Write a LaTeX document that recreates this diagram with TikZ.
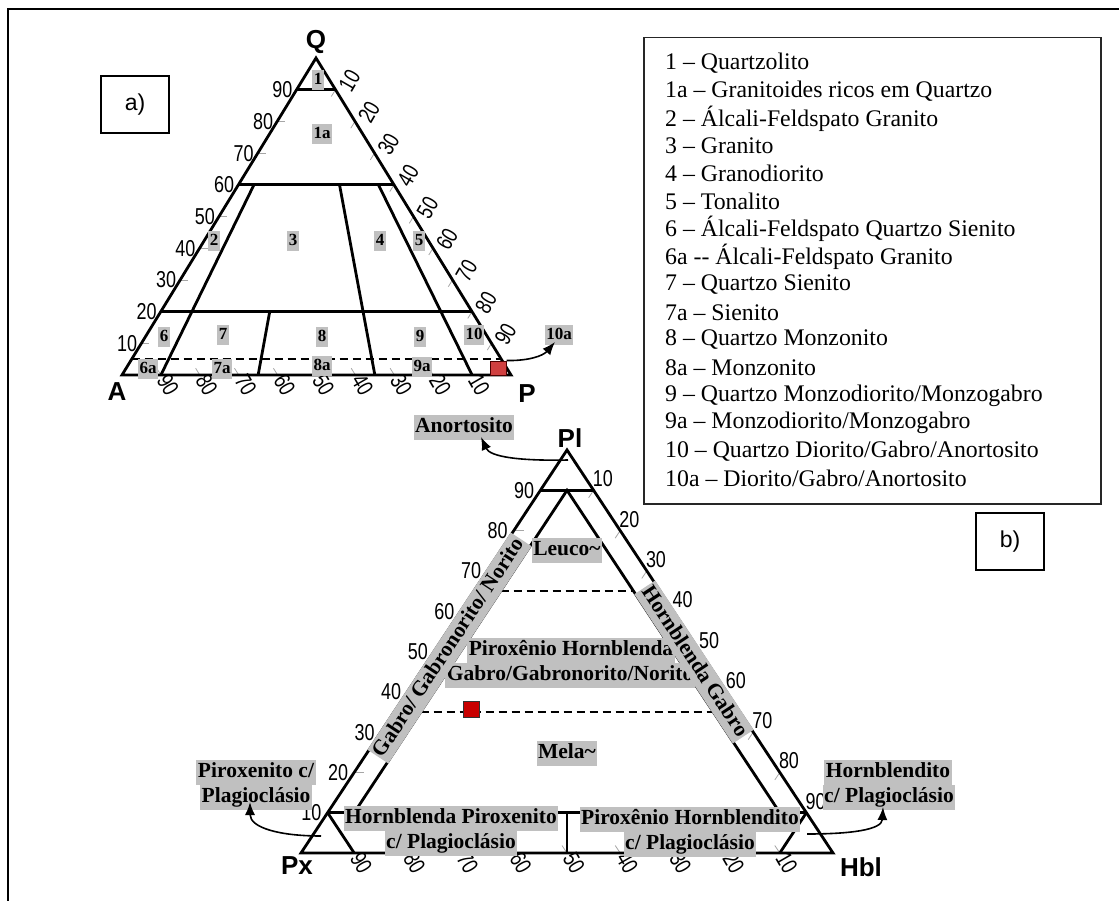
\documentclass[tikz,border=0pt]{standalone}
\usepackage{fontspec}
\usepackage{graphicx}
\setmainfont{Liberation Serif}
\newfontfamily\arialf{Liberation Sans}
\usetikzlibrary{calc,arrows.meta}
\definecolor{hl}{RGB}{192,192,192}
\definecolor{sqa}{RGB}{208,64,64}
\definecolor{sqb}{RGB}{200,0,0}
\begin{document}
\begin{tikzpicture}[x=1pt,y=-1pt,
  thickline/.style={line width=2.8pt, line join=miter},
  dashline/.style={line width=2.4pt, dash pattern=on 8pt off 5pt},
  tickline/.style={line width=0.8pt, draw=gray!70},
  ticklab/.style={font=\arialf\fontsize{23}{23}\selectfont, inner sep=0pt},
  vertlab/.style={font=\arialf\bfseries\fontsize{26}{26}\selectfont, inner sep=0pt},
  smalllab/.style={fill=hl, font=\bfseries\fontsize{17}{17}\selectfont, inner xsep=1.5pt, inner ysep=2.2pt, text height=12.5pt, text depth=3pt},
  biglab/.style={fill=hl, font=\bfseries\fontsize{21.5}{21.5}\selectfont, inner xsep=1.5pt, inner ysep=2pt, text height=15.5pt, text depth=5.5pt},
  legtxt/.style={font=\fontsize{23.8}{23.8}\selectfont, anchor=west, inner sep=0pt},
  arr/.style={line width=1.6pt, -{Latex[length=13pt,width=10pt]}},
  boxlab/.style={draw, line width=1.5pt, minimum width=68pt, minimum height=57pt, font=\arialf\fontsize{23}{23}\selectfont},
  redsq/.style={draw=black!70!red, line width=1pt}
]
\useasboundingbox (0,0) rectangle (1119,901);
% frame
\coordinate (f1) at (8,901);
\coordinate (f2) at (8,9);
\coordinate (f3) at (1119,9);
\draw[line width=2.5pt] (f1) -- (f2) -- (f3);

% ================= triangle a =================
\coordinate (A) at (122,375);
\coordinate (P) at (511,375);
\coordinate (Q) at (316,58);
\foreach \i in {1,...,9} {
  \pgfmathsetmacro\t{\i/10}
  \pgfmathtruncatemacro\v{\i*10}
  \pgfmathtruncatemacro\w{100-\i*10}
  \coordinate (aL\i) at ($(A)!\t!(Q)$);
  \coordinate (aR\i) at ($(Q)!\t!(P)$);
  \coordinate (aB\i) at ($(A)!\t!(P)$);
  \draw[tickline] (aL\i) -- ++(8,0);
  \draw[tickline] (aR\i) -- ++(-4.2,6.8);
  \draw[tickline] (aB\i) -- ++(-4.2,-6.8);
  \node[ticklab, anchor=east] (aLt\i) at ($(aL\i)+(-4,0)$) {\scalebox{0.78}[1]{\v}};
  \node[ticklab, rotate=60] (aRt\i) at ($(aR\i)+(14,-9)$) {\scalebox{0.78}[1]{\v}};
  \node[ticklab, rotate=-60] (aBt\i) at ($(aB\i)+(7,10)$) {\scalebox{0.78}[1]{\w}};
}
\draw[thickline] (A) -- (P) -- (Q) -- cycle;
\draw[thickline] ($(A)!0.9!(Q)$) -- ($(P)!0.9!(Q)$);
\draw[thickline] ($(A)!0.6!(Q)$) -- ($(P)!0.6!(Q)$);
\draw[thickline] ($(A)!0.2!(Q)$) -- ($(P)!0.2!(Q)$);
\draw[dashline] ($(A)!0.05!(Q)$) -- ($(P)!0.05!(Q)$);
\coordinate (r10) at ($(A)!0.10!(P)$);
\coordinate (r35) at ($(A)!0.35!(P)$);
\coordinate (r65) at ($(A)!0.65!(P)$);
\coordinate (r90) at ($(A)!0.90!(P)$);
\draw[thickline] (r10) -- ($(r10)!0.6!(Q)$);
\draw[thickline] (r65) -- ($(r65)!0.6!(Q)$);
\draw[thickline] (r90) -- ($(r90)!0.6!(Q)$);
\draw[thickline] (r35) -- ($(r35)!0.2!(Q)$);
\node[smalllab] (l1) at (318,80) {1};
\node[smalllab] (l1a) at (322,134) {1a};
\node[smalllab] (l2) at (214,241) {2};
\node[smalllab] (l3) at (293,241) {3};
\node[smalllab] (l4) at (380,241) {4};
\node[smalllab] (l5) at (419,241) {5};
\node[smalllab] (l6) at (164,337) {6};
\node[smalllab] (l7) at (223,335) {7};
\node[smalllab] (l8) at (322,337) {8};
\node[smalllab] (l9) at (420,337) {9};
\node[smalllab] (l10) at (474,335) {10};
\node[smalllab] (l6a) at (148,369) {6a};
\node[smalllab] (l7a) at (222,369) {7a};
\node[smalllab] (l8a) at (322,366) {8a};
\node[smalllab] (l9a) at (422,367) {9a};
\node[smalllab] (l10a) at (559,335) {10a};
\node[redsq, fill=sqa, minimum width=16pt, minimum height=14pt, inner sep=0pt] (sqA) at (498,368) {};
\coordinate (e10a) at (555,342);
\draw[arr] (sqA.north east) .. controls (528,361) and (543,356) .. (e10a);
\node[vertlab] (tQ) at (316,42) {Q};
\node[vertlab] (tA) at (117,392) {A};
\node[vertlab] (tP) at (527,394) {P};
\node[boxlab] (boxa) at (135,104.5) {a)};

% ================= legend =================
\node[draw=black!85, line width=1.5pt, minimum width=457pt, minimum height=466pt, anchor=north west, inner sep=0pt] (legbox) at (643,37) {};
\foreach \txt [count=\i from 0] in {
  1 – Quartzolito,
  1a – Granitoides ricos em Quartzo,
  2 – Álcali-Feldspato Granito,
  3 – Granito,
  4 – Granodiorito,
  5 – Tonalito,
  6 – Álcali-Feldspato Quartzo Sienito,
  6a -{}- Álcali-Feldspato Granito,
  7 – Quartzo Sienito,
  7a – Sienito,
  8 – Quartzo Monzonito,
  8a – Monzonito,
  9 – Quartzo Monzodiorito/Monzogabro,
  9a – Monzodiorito/Monzogabro,
  10 – Quartzo Diorito/Gabro/Anortosito,
  10a – Diorito/Gabro/Anortosito} {
  \node[legtxt] (leg\i) at (665,{63+27.7*\i}) {\txt};
}
\node[boxlab] (boxb) at (1010,541.5) {b)};

% ================= triangle b =================
\coordinate (Px) at (301,853);
\coordinate (Hbl) at (833,853);
\coordinate (Pl) at (567,450);
\foreach \i in {1,...,9} {
  \pgfmathsetmacro\t{\i/10}
  \pgfmathtruncatemacro\v{\i*10}
  \pgfmathtruncatemacro\w{100-\i*10}
  \coordinate (bL\i) at ($(Px)!\t!(Pl)$);
  \coordinate (bR\i) at ($(Pl)!\t!(Hbl)$);
  \coordinate (bB\i) at ($(Px)!\t!(Hbl)$);
  \draw[tickline] (bL\i) -- ++(10,0);
  \draw[tickline] (bR\i) -- ++(-5,7.5);
  \draw[tickline] (bB\i) -- ++(-5,-7.5);
  \node[ticklab, anchor=east] (bLt\i) at ($(bL\i)+(-6,0)$) {\scalebox{0.78}[1]{\v}};
  \node[ticklab, anchor=south west] (bRt\i) at ($(bR\i)+(-1,-3)$) {\scalebox{0.78}[1]{\v}};
  \node[ticklab, rotate=-60] (bBt\i) at ($(bB\i)+(7,10)$) {\scalebox{0.78}[1]{\w}};
}
\draw[thickline] (Px) -- (Hbl) -- (Pl) -- cycle;
\coordinate (b90L) at ($(Px)!0.9!(Pl)$);
\coordinate (b90R) at ($(Hbl)!0.9!(Pl)$);
\coordinate (b90M) at ($(b90L)!0.5!(b90R)$);
\coordinate (b10L) at ($(Px)!0.1!(Pl)$);
\coordinate (b10R) at ($(Hbl)!0.1!(Pl)$);
\coordinate (IL) at (354.2,812.7);
\coordinate (IR) at (779.8,812.7);
\coordinate (bPx90) at ($(Px)!0.1!(Hbl)$);
\coordinate (bHb90) at ($(Px)!0.9!(Hbl)$);
\coordinate (b10M) at ($(b10L)!0.5!(b10R)$);
\coordinate (bM) at ($(Px)!0.5!(Hbl)$);
\coordinate (d65L) at (500.5,591.05);
\coordinate (d65R) at (633.5,591.05);
\coordinate (d35L) at (420.7,711.95);
\coordinate (d35R) at (713.3,711.95);
\draw[thickline] (b90L) -- (b90R);
\draw[thickline] (IL) -- (b90M) -- (IR);
\draw[thickline] (b10L) -- (b10R);
\draw[thickline] (b10L) -- (bPx90);
\draw[thickline] (b10R) -- (bHb90);
\draw[thickline] (b10M) -- (bM);
\draw[dashline] (d65L) -- (d65R);
\draw[dashline] (d35L) -- (d35R);
\node[redsq, draw=black!80, fill=sqb, minimum width=16pt, minimum height=16pt, inner sep=0pt] (sqB) at (471.5,709) {};
\node[biglab] (leuco) at (567,550) {Leuco\char`\~};
\node[biglab] (ph1) at (571,650) {Piroxênio Hornblenda};
\node[biglab] (ph2) at (570,675) {Gabro/Gabronorito/Norito};
\node[biglab] (mela) at (567,753) {Mela\char`\~};
\node[biglab] (hp1) at (451,818.5) {Hornblenda Piroxenito};
\node[biglab] (hp2) at (451,843.5) {c/ Plagioclásio};
\node[biglab] (phb1) at (690,819) {Piroxênio Hornblendito};
\node[biglab] (phb2) at (690,844) {c/ Plagioclásio};
\node[biglab, rotate=56.6] (gab) at (449.5,648) {Gabro/ Gabronorito/ Norito};
\node[biglab, rotate=-56.6] (hgab) at (694,662) {Hornblenda Gabro};
\node[biglab] (anor) at (464,427) {Anortosito};
\node[biglab] (pxc1) at (256,772) {Piroxenito c/};
\node[biglab] (pxc2) at (256,797) {Plagioclásio};
\node[biglab] (hbc1) at (888,772) {Hornblendito};
\node[biglab] (hbc2) at (889,797) {c/ Plagioclásio};
\coordinate (sAn) at (568,460);
\coordinate (sPx) at (321,836);
\coordinate (sHb) at (807,834);
\coordinate (eAn) at (481,437);
\coordinate (ePx) at (250,802);
\coordinate (eHb) at (883,807);
\draw[arr] (sAn) .. controls (520,461) and (490,457) .. (eAn);
\draw[arr] (sPx) .. controls (280,836) and (250,828) .. (ePx);
\draw[arr] (sHb) .. controls (850,834) and (882,830) .. (eHb);
\node[vertlab] (tPl) at (570,438) {Pl};
\node[vertlab] (tPx) at (297,866) {Px};
\node[vertlab] (tHbl) at (861,867) {Hbl};
\end{tikzpicture}
\end{document}
